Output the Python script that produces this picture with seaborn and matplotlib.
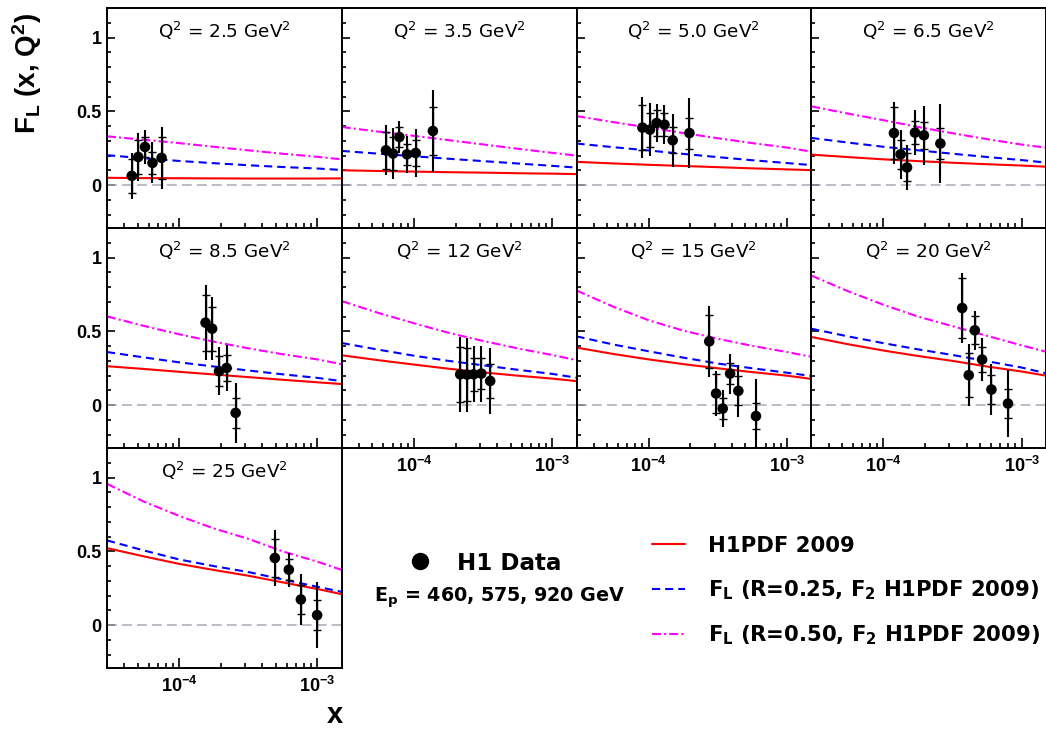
import matplotlib
matplotlib.use("Agg")
import matplotlib.pyplot as plt
from matplotlib.lines import Line2D
from matplotlib.ticker import LogLocator, NullFormatter, MultipleLocator, FixedLocator
import seaborn as sns

sns.set_style("ticks")
plt.rcParams["font.family"] = ["DejaVu Sans"]
plt.rcParams["mathtext.default"] = "regular"
for key in ("text.color", "axes.labelcolor", "xtick.color", "ytick.color",
            "axes.edgecolor"):
    plt.rcParams[key] = "black"

# ---- panel labels (Q^2 in GeV^2) ----
q2_labels = ["2.5", "3.5", "5.0", "6.5", "8.5", "12", "15", "20", "25"]

# ---- H1 measurements per Q^2 bin ----
x_data = [
    [4.53e-5, 5.05e-5, 5.65e-5, 6.4e-5, 7.45e-5],
    [6.27e-5, 7.05e-5, 7.84e-5, 8.9e-5, 1.03e-4, 1.37e-4],
    [9.0e-5, 1.02e-4, 1.14e-4, 1.30e-4, 1.49e-4, 1.97e-4],
    [1.19e-4, 1.33e-4, 1.48e-4, 1.69e-4, 1.96e-4, 2.58e-4],
    [1.55e-4, 1.73e-4, 1.94e-4, 2.20e-4, 2.56e-4],
    [2.16e-4, 2.42e-4, 2.70e-4, 3.07e-4, 3.56e-4],
    [2.74e-4, 3.07e-4, 3.43e-4, 3.88e-4, 4.45e-4, 5.97e-4],
    [3.71e-4, 4.14e-4, 4.58e-4, 5.17e-4, 6.04e-4, 7.96e-4],
    [4.92e-4, 6.21e-4, 7.59e-4, 9.95e-4],
]
fl_data = [
    [0.063, 0.191, 0.259, 0.151, 0.185],
    [0.236, 0.214, 0.326, 0.209, 0.218, 0.367],
    [0.390, 0.376, 0.421, 0.410, 0.304, 0.353],
    [0.353, 0.209, 0.120, 0.356, 0.338, 0.282],
    [0.559, 0.518, 0.230, 0.252, -0.052],
    [0.209, 0.207, 0.209, 0.214, 0.164],
    [0.432, 0.079, -0.023, 0.214, 0.097, -0.074],
    [0.658, 0.203, 0.507, 0.309, 0.106, 0.011],
    [0.455, 0.376, 0.174, 0.068],
]
err_stat = [
    [0.117, 0.113, 0.068, 0.073, 0.140],
    [0.124, 0.110, 0.070, 0.070, 0.085, 0.165],
    [0.150, 0.115, 0.085, 0.080, 0.087, 0.105],
    [0.175, 0.100, 0.095, 0.077, 0.092, 0.105],
    [0.190, 0.150, 0.100, 0.090, 0.100],
    [0.186, 0.180, 0.110, 0.105, 0.118],
    [0.180, 0.130, 0.070, 0.073, 0.098, 0.090],
    [0.200, 0.150, 0.095, 0.085, 0.100, 0.098],
    [0.130, 0.070, 0.098, 0.104],
]
err_tot = [
    [0.155, 0.165, 0.115, 0.139, 0.211],
    [0.170, 0.170, 0.110, 0.127, 0.160, 0.280],
    [0.205, 0.180, 0.130, 0.130, 0.180, 0.240],
    [0.210, 0.165, 0.155, 0.150, 0.200, 0.270],
    [0.255, 0.215, 0.163, 0.157, 0.204],
    [0.254, 0.250, 0.190, 0.190, 0.225],
    [0.240, 0.150, 0.128, 0.135, 0.175, 0.250],
    [0.240, 0.210, 0.130, 0.145, 0.175, 0.227],
    [0.190, 0.116, 0.175, 0.225],
]

# ---- predictions, sampled at these x values ----
curve_x = [3.0e-5, 5.6e-5, 1.0e-4, 1.78e-4, 3.16e-4, 5.6e-4, 1.0e-3, 1.5e-3]
curve_h1pdf = [
    [0.050, 0.048, 0.047, 0.046, 0.045, 0.045, 0.045, 0.046],
    [0.101, 0.096, 0.092, 0.088, 0.085, 0.081, 0.078, 0.075],
    [0.158, 0.147, 0.138, 0.130, 0.122, 0.114, 0.107, 0.102],
    [0.207, 0.190, 0.175, 0.163, 0.152, 0.142, 0.133, 0.125],
    [0.264, 0.245, 0.226, 0.208, 0.190, 0.172, 0.155, 0.143],
    [0.338, 0.304, 0.275, 0.247, 0.222, 0.200, 0.180, 0.163],
    [0.390, 0.346, 0.310, 0.278, 0.250, 0.224, 0.200, 0.178],
    [0.462, 0.412, 0.370, 0.333, 0.300, 0.262, 0.228, 0.200],
    [0.522, 0.465, 0.415, 0.374, 0.335, 0.290, 0.245, 0.210],
]
curve_r025 = [
    [0.203, 0.182, 0.164, 0.149, 0.135, 0.123, 0.113, 0.103],
    [0.232, 0.213, 0.196, 0.179, 0.163, 0.147, 0.131, 0.119],
    [0.282, 0.257, 0.235, 0.212, 0.190, 0.169, 0.150, 0.136],
    [0.320, 0.288, 0.260, 0.236, 0.213, 0.191, 0.170, 0.153],
    [0.360, 0.323, 0.290, 0.262, 0.235, 0.209, 0.185, 0.163],
    [0.421, 0.375, 0.335, 0.300, 0.270, 0.240, 0.212, 0.186],
    [0.466, 0.410, 0.365, 0.322, 0.282, 0.250, 0.220, 0.198],
    [0.518, 0.465, 0.420, 0.378, 0.340, 0.298, 0.255, 0.216],
    [0.574, 0.505, 0.445, 0.400, 0.360, 0.310, 0.260, 0.226],
]
curve_r050 = [
    [0.331, 0.307, 0.285, 0.260, 0.236, 0.213, 0.192, 0.175],
    [0.394, 0.362, 0.334, 0.305, 0.276, 0.247, 0.219, 0.200],
    [0.468, 0.426, 0.390, 0.353, 0.318, 0.285, 0.255, 0.227],
    [0.534, 0.484, 0.440, 0.394, 0.352, 0.312, 0.275, 0.254],
    [0.601, 0.536, 0.480, 0.430, 0.385, 0.345, 0.310, 0.277],
    [0.705, 0.623, 0.555, 0.490, 0.435, 0.385, 0.340, 0.305],
    [0.777, 0.665, 0.575, 0.505, 0.450, 0.402, 0.360, 0.328],
    [0.878, 0.770, 0.680, 0.600, 0.535, 0.470, 0.405, 0.362],
    [0.957, 0.835, 0.740, 0.655, 0.585, 0.500, 0.430, 0.374],
]

legend_labels = ["H1PDF 2009",
                 "F$_L$ (R=0.25, F$_2$ H1PDF 2009)",
                 "F$_L$ (R=0.50, F$_2$ H1PDF 2009)"]

# ---- styles ----
RED, BLUE, MAG, GREY = "#ff0000", "#0000ff", "#ff00ff", "#aaaabb"
LS_BLUE = (0, (3.9, 2.4))
LS_MAG = (0, (4.3, 1.5, 1.0, 1.5))
LS_ZERO = (0, (6.5, 3.3))
tick_font = dict(family="Liberation Sans", weight="bold", size=13)

W, H = 1046, 730
fig = plt.figure(figsize=(W / 100, H / 100), dpi=100)
fig.patch.set_facecolor("white")

pw, ph = 234.75, 220.0
x0_px, y0_px = 107.0, 8.0

for i, q in enumerate(q2_labels):
    r, c = divmod(i, 4)
    left = x0_px + c * pw
    top = y0_px + r * ph
    ax = fig.add_axes([left / W, 1 - (top + ph) / H, pw / W, ph / H])
    ax.set_facecolor("white")
    ax.set_xscale("log")
    ax.set_xlim(3.0e-5, 1.5e-3)
    ax.set_ylim(-0.29, 1.2)

    ax.axhline(0, color=GREY, lw=1.1, linestyle=LS_ZERO, zorder=1)
    sns.lineplot(x=curve_x, y=curve_h1pdf[i], ax=ax, color=RED, lw=1.5,
                 sort=False, zorder=2)
    sns.lineplot(x=curve_x, y=curve_r025[i], ax=ax, color=BLUE, lw=1.5,
                 linestyle=LS_BLUE, sort=False, zorder=2)
    sns.lineplot(x=curve_x, y=curve_r050[i], ax=ax, color=MAG, lw=1.5,
                 linestyle=LS_MAG, sort=False, zorder=2)

    ax.errorbar(x_data[i], fl_data[i], yerr=err_tot[i], fmt="none",
                ecolor="black", elinewidth=1.5, capsize=0, zorder=3)
    ax.errorbar(x_data[i], fl_data[i], yerr=err_stat[i], fmt="none",
                ecolor="black", elinewidth=1.0, capsize=3.0, capthick=1.0,
                zorder=3)
    sns.scatterplot(x=x_data[i], y=fl_data[i], ax=ax, color="black", s=58,
                    edgecolor="none", zorder=4, legend=False)

    ax.text(0.5, 0.862, f"Q$^2$ = {q} GeV$^2$", transform=ax.transAxes,
            ha="center", va="baseline", fontsize=13.2)

    # frame and ticks
    for sp in ax.spines.values():
        sp.set_visible(True)
        sp.set_linewidth(1.4)
        sp.set_color("black")
    ax.yaxis.set_major_locator(FixedLocator([0, 0.5, 1]))
    ax.yaxis.set_minor_locator(MultipleLocator(0.1))
    ax.xaxis.set_major_locator(FixedLocator([1e-4, 1e-3]))
    ax.xaxis.set_minor_locator(LogLocator(base=10, subs=range(2, 10), numticks=20))
    ax.xaxis.set_minor_formatter(NullFormatter())
    ax.set_xticks([1e-4, 1e-3], ["$10^{-4}$", "$10^{-3}$"], **tick_font)
    ax.set_yticks([0, 0.5, 1], ["0", "0.5", "1"], **tick_font)
    ax.tick_params(which="both", direction="in", top=False, right=False,
                   width=1.2, color="black")
    ax.tick_params(axis="y", which="major", length=6, pad=4)
    ax.tick_params(axis="y", which="minor", length=3)
    ax.tick_params(axis="x", which="major", length=7, pad=6)
    ax.tick_params(axis="x", which="minor", length=3.5)
    show_x = (r == 1 and c >= 1) or (r == 2)
    ax.tick_params(labelbottom=show_x, labelleft=(c == 0))
    ax.set_xlabel("")
    ax.set_ylabel("")

# axis titles
fig.text(27 / W, 1 - 74 / H, "F$_L$ (x, Q$^2$)", rotation=90, ha="center",
         va="center", fontsize=20, fontweight="bold", family="Liberation Sans")
fig.text(335 / W, 1 - 723 / H, "x", ha="center", va="baseline", fontsize=21,
         fontweight="bold", family="Liberation Sans")

# data legend
data_handle = Line2D([], [], ls="none", marker="o", ms=11.5, color="black")
fig.legend([data_handle], ["H1 Data"], loc="center left",
           bbox_to_anchor=(408.5 / W, 1 - 563 / H), frameon=False,
           prop=dict(size=16.6, weight="bold"), handlelength=1.0,
           handletextpad=1.1, borderpad=0, borderaxespad=0)
fig.text(500 / W, 1 - 602 / H, "E$_p$ = 460, 575, 920 GeV", ha="center",
         va="baseline", fontsize=13.8, fontweight="bold")

# prediction legend
pred_handles = [Line2D([], [], color=RED, lw=1.5),
                Line2D([], [], color=BLUE, lw=1.5, linestyle=LS_BLUE),
                Line2D([], [], color=MAG, lw=1.5, linestyle=LS_MAG)]
fig.legend(pred_handles, legend_labels, loc="center left",
           bbox_to_anchor=(652 / W, 1 - 591.5 / H), frameon=False,
           prop=dict(size=15.2, weight="bold"), handlelength=1.58,
           handletextpad=1.07, labelspacing=1.05, borderpad=0,
           borderaxespad=0)

fig.savefig("out.png", dpi=100, facecolor="white")
